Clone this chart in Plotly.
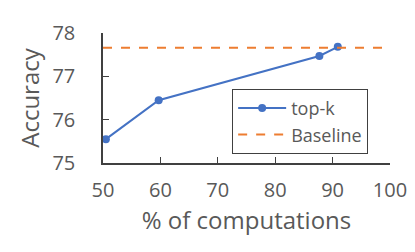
import plotly.graph_objects as go

x_topk = [50.5, 59.7, 87.7, 90.9]
y_topk = [75.55, 76.45, 77.47, 77.68]
baseline_x = [50, 100]
baseline_y = [77.66, 77.66]
x_ticks = [50, 60, 70, 80, 90, 100]
y_ticks = [75, 76, 77, 78]

BLUE = "#4472C4"
ORANGE = "#ED7D31"
TXT = "#595959"
FONT = "Open Sans"

fig = go.Figure()
fig.add_trace(go.Scatter(x=x_topk, y=y_topk, mode="lines+markers", name="top-k",
                         line=dict(color=BLUE, width=2), marker=dict(size=8, color=BLUE)))
fig.add_trace(go.Scatter(x=baseline_x, y=baseline_y, mode="lines", name="Baseline",
                         line=dict(color=ORANGE, width=2, dash="dash")))

fig.update_layout(
    width=415, height=252,
    margin=dict(l=95, r=32.5, t=24.5, b=96.5),
    paper_bgcolor="white", plot_bgcolor="white",
    font=dict(family=FONT, size=20, color=TXT),
    legend=dict(x=0.45, y=0.57, xanchor="left", yanchor="top",
                bordercolor="#404040", borderwidth=1, bgcolor="white",
                font=dict(size=18, color=TXT), tracegroupgap=0,
                itemwidth=48, entrywidth=148, entrywidthmode="pixels"),
    xaxis=dict(range=[50, 100], tickvals=x_ticks, ticks="inside", ticklen=6,
               tickcolor="#404040", showline=True, linecolor="#404040", linewidth=1.5,
               showgrid=False, zeroline=False, ticklabelstandoff=8,
               title=dict(text="% of computations", standoff=10)),
    yaxis=dict(range=[75, 78], tickvals=y_ticks, ticks="inside", ticklen=6,
               tickcolor="#404040", showline=True, linecolor="#404040", linewidth=1.5,
               showgrid=False, zeroline=False, ticklabelstandoff=22,
               title=dict(text="Accuracy", standoff=6)),
)
fig.write_html("out.html")
